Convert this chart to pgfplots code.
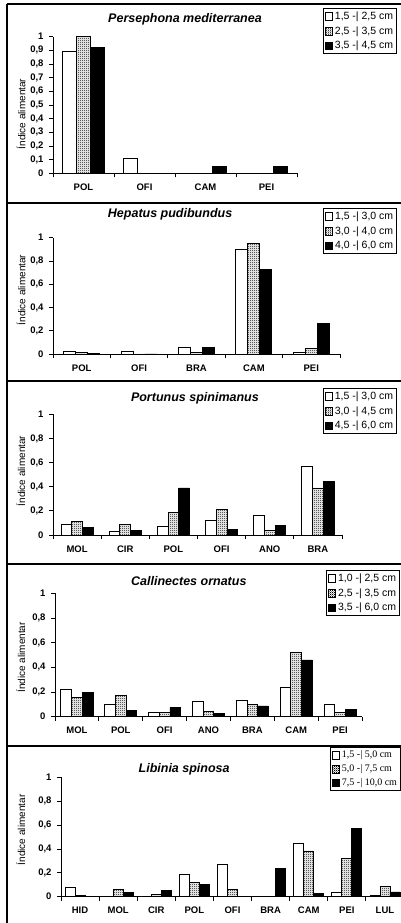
\documentclass[border=0pt]{standalone}
\usepackage{fontspec}
\setmainfont{Liberation Sans}
\newfontfamily\serifleg{Liberation Serif}
\usepackage{pgfplots}
\pgfplotsset{compat=1.18}
\usetikzlibrary{patterns}
\pgfdeclarepatternformonly{finecheck}{\pgfpointorigin}{\pgfpoint{2pt}{2pt}}{\pgfpoint{2pt}{2pt}}{%
 \pgfpathrectangle{\pgfpointorigin}{\pgfpoint{1pt}{1pt}}%
 \pgfpathrectangle{\pgfpoint{1pt}{1pt}}{\pgfpoint{1pt}{1pt}}%
 \pgfusepath{fill}}
\pgfplotsset{
 mybase/.style={
  scale only axis, ybar=0pt, axis lines=left,
  axis line style={-, line width=0.9pt},
  ymin=0, ymax=1, xmin=-0.5,
  tick align=outside,
  major x tick style={draw=none},
  minor x tick style={black, line width=0.8pt},
  minor tick length=4pt, major tick length=4pt,
  ytick style={black, line width=0.8pt},
  yticklabel style={font=\fontsize{9.5}{10}\selectfont\bfseries, xshift=-2pt},
  xticklabel style={font=\fontsize{9.5}{10}\selectfont\bfseries, yshift=-3pt},
  /pgf/number format/use comma, /pgf/number format/assume math mode=true,
  ylabel={Índice alimentar},
  ylabel style={font=\fontsize{10}{10}\selectfont, anchor=center},
  title style={font=\fontsize{12.5}{13}\selectfont\bfseries\itshape, anchor=center},
  legend style={draw=black, line width=0.8pt, font=\fontsize{10.5}{11}\selectfont, anchor=north east, row sep=1.5pt, inner sep=1.5pt},
  legend cell align=left,
  legend image code/.code={\draw[#1, line width=0.6pt] (0pt,-3.8pt) rectangle (7.6pt,3.8pt);},
  clip=false,
 },
 s1/.style={fill=white, draw=black, line width=0.8pt},
 s2/.style={pattern=finecheck, draw=black, line width=0.8pt},
 s3/.style={fill=black, draw=black, line width=0.8pt},
}
\begin{document}
\begin{tikzpicture}
\useasboundingbox (0pt,0pt) rectangle (401pt,923pt);
\fill[white] (0pt,0pt) rectangle (401pt,923pt);
% frames
\draw[line width=1.2pt] (7pt,919pt) -- (401pt,919pt);
\draw[line width=1.2pt] (7pt,720pt) -- (401pt,720pt);
\draw[line width=1.2pt] (7pt,542pt) -- (401pt,542pt);
\draw[line width=1.2pt] (7pt,359pt) -- (401pt,359pt);
\draw[line width=1.2pt] (7pt,177pt) -- (401pt,177pt);
\draw[line width=1.2pt] (7pt,919pt) -- (7pt,0pt);

% Panel 1
\begin{axis}[mybase, at={(53pt,749.7pt)}, anchor=south west,
 width=244pt, height=136.6pt, xmax=3.5, bar width=14pt,
 xtick={0,1,2,3}, xticklabels={POL,OFI,CAM,PEI},
 minor xtick={-0.5,0.5,1.5,2.5,3.5},
 ytick={0,0.1,0.2,0.3,0.4,0.5,0.6,0.7,0.8,0.9,1},
 ylabel style={at={(axis description cs:-0.131,0.434)}},
 title={Persephona mediterranea}, title style={at={(axis description cs:0.541,1.086)}},
 legend style={at={(axis description cs:1.410,1.21)}}]
\addplot[s1] coordinates {(0,0.89) (1,0.11) (2,0) (3,0)};
\addplot[s2] coordinates {(0,1.0) (1,0) (2,0) (3,0)};
\addplot[s3] coordinates {(0,0.92) (1,0) (2,0.05) (3,0.05)};
\addlegendentry{1,5 -| 2,5 cm}
\addlegendentry{2,5 -| 3,5 cm}
\addlegendentry{3,5 -| 4,5 cm}
\end{axis}

% Panel 2
\begin{axis}[mybase, at={(53pt,569pt)}, anchor=south west,
 width=287pt, height=116.3pt, xmax=4.5, bar width=12pt,
 xtick={0,1,2,3,4}, xticklabels={POL,OFI,BRA,CAM,PEI},
 minor xtick={-0.5,0.5,1.5,2.5,3.5,4.5},
 ytick={0,0.2,0.4,0.6,0.8,1},
 ylabel style={at={(axis description cs:-0.111,0.55)}},
 title={Hepatus pudibundus}, title style={at={(axis description cs:0.408,1.152)}},
 legend style={at={(axis description cs:1.199,1.255)}}]
\addplot[s1] coordinates {(0,0.02) (1,0.02) (2,0.06) (3,0.90) (4,0.015)};
\addplot[s2] coordinates {(0,0.01) (1,0) (2,0.015) (3,0.95) (4,0.05)};
\addplot[s3] coordinates {(0,0.005) (1,0) (2,0.055) (3,0.725) (4,0.26)};
\addlegendentry{1,5 -| 3,0 cm}
\addlegendentry{3,0 -| 4,0 cm}
\addlegendentry{4,0 -| 6,0 cm}
\end{axis}

% Panel 3
\begin{axis}[mybase, at={(53pt,388pt)}, anchor=south west,
 width=289pt, height=120.7pt, xmax=5.5, bar width=10.7pt,
 xtick={0,1,2,3,4,5}, xticklabels={MOL,CIR,POL,OFI,ANO,BRA},
 minor xtick={-0.5,0.5,1.5,2.5,3.5,4.5,5.5},
 ytick={0,0.2,0.4,0.6,0.8,1},
 ylabel style={at={(axis description cs:-0.111,0.53)}},
 title={Portunus spinimanus}, title style={at={(axis description cs:0.491,1.085)}},
 legend style={at={(axis description cs:1.190,1.218)}}]
\addplot[s1] coordinates {(0,0.09) (1,0.03) (2,0.07) (3,0.12) (4,0.16) (5,0.57)};
\addplot[s2] coordinates {(0,0.11) (1,0.085) (2,0.19) (3,0.215) (4,0.035) (5,0.39)};
\addplot[s3] coordinates {(0,0.065) (1,0.04) (2,0.39) (3,0.045) (4,0.077) (5,0.44)};
\addlegendentry{1,5 -| 3,0 cm}
\addlegendentry{3,0 -| 4,5 cm}
\addlegendentry{4,5 -| 6,0 cm}
\end{axis}

% Panel 4
\begin{axis}[mybase, at={(55pt,206.3pt)}, anchor=south west,
 width=307pt, height=123.4pt, xmax=6.5, bar width=10.7pt,
 xtick={0,1,2,3,4,5,6}, xticklabels={MOL,POL,OFI,ANO,BRA,CAM,PEI},
 minor xtick={-0.5,0.5,1.5,2.5,3.5,4.5,5.5,6.5},
 ytick={0,0.2,0.4,0.6,0.8,1},
 ylabel style={at={(axis description cs:-0.111,0.48)}},
 title={Callinectes ornatus}, title style={at={(axis description cs:0.436,1.051)}},
 legend style={at={(axis description cs:1.124,1.189)}}]
\addplot[s1] coordinates {(0,0.22) (1,0.10) (2,0.038) (3,0.127) (4,0.135) (5,0.24) (6,0.10)};
\addplot[s2] coordinates {(0,0.155) (1,0.17) (2,0.035) (3,0.046) (4,0.097) (5,0.525) (6,0.035)};
\addplot[s3] coordinates {(0,0.195) (1,0.05) (2,0.073) (3,0.024) (4,0.087) (5,0.46) (6,0.06)};
\addlegendentry{1,0 -| 2,5 cm}
\addlegendentry{2,5 -| 3,5 cm}
\addlegendentry{3,5 -| 6,0 cm}
\end{axis}

% Panel 5
\begin{axis}[mybase, at={(61pt,26.3pt)}, anchor=south west,
 width=343pt, height=119.4pt, xmax=8.5, bar width=10pt,
 xtick={0,1,2,3,4,5,6,7,8}, xticklabels={HID,MOL,CIR,POL,OFI,BRA,CAM,PEI,LUL},
 minor xtick={-0.5,0.5,1.5,2.5,3.5,4.5,5.5,6.5,7.5,8.5},
 ytick={0,0.2,0.4,0.6,0.8,1},
 ylabel style={at={(axis description cs:-0.117,0.56)}},
 title={Libinia spinosa}, title style={at={(axis description cs:0.359,1.019)}},
 legend style={at={(axis description cs:0.991,1.254)}, font=\fontsize{10}{11}\selectfont\serifleg}]
\addplot[s1] coordinates {(0,0.075) (1,0.005) (2,0) (3,0.19) (4,0.27) (5,0.005) (6,0.445) (7,0.04) (8,0.01)};
\addplot[s2] coordinates {(0,0.014) (1,0.064) (2,0.02) (3,0.117) (4,0.058) (5,0.005) (6,0.383) (7,0.32) (8,0.085)};
\addplot[s3] coordinates {(0,0.005) (1,0.033) (2,0.05) (3,0.10) (4,0.005) (5,0.24) (6,0.03) (7,0.57) (8,0.04)};
\addlegendentry{1,5 -| 5,0 cm}
\addlegendentry{5,0 -| 7,5 cm}
\addlegendentry{7,5 -| 10,0 cm}
\end{axis}
\end{tikzpicture}
\end{document}
